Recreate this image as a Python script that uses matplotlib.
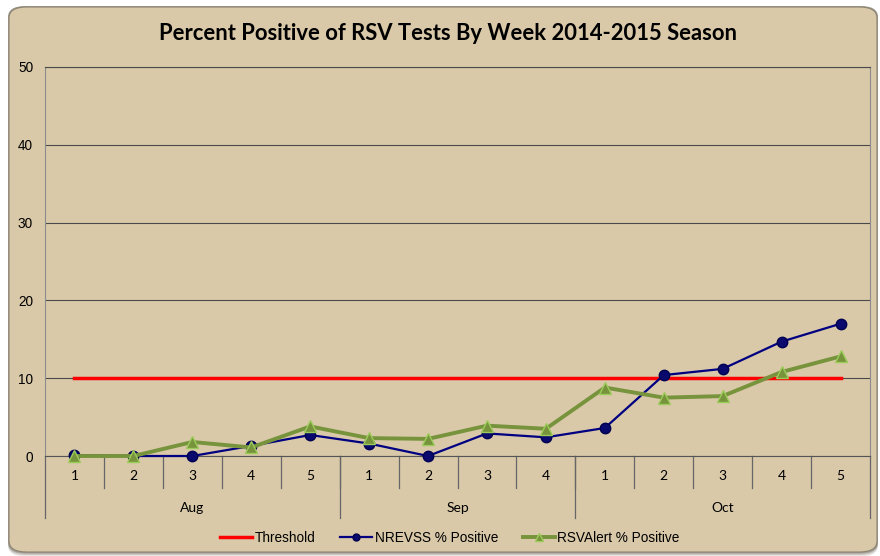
import numpy as np
import matplotlib.pyplot as plt
from matplotlib.patches import FancyBboxPatch
from matplotlib.lines import Line2D

weeks = ['1', '2', '3', '4', '5', '1', '2', '3', '4', '1', '2', '3', '4', '5']
months = ['Aug', 'Sep', 'Oct']
month_len = [5, 4, 5]
threshold = [10] * 14
nrevss = [0.1, 0.0, 0.0, 1.3, 2.7, 1.6, 0.0, 2.9, 2.4, 3.6, 10.4, 11.2, 14.7, 17.0]
rsvalert = [0.0, 0.0, 1.8, 1.1, 3.8, 2.3, 2.2, 3.9, 3.5, 8.8, 7.5, 7.7, 10.8, 12.8]

BG = '#D9C9A9'
W, H = 880, 556

fig = plt.figure(figsize=(8.8, 5.56), dpi=100, facecolor='white')

# rounded frame with a soft shadow
for i, a in enumerate([0.15, 0.25, 0.4]):
    off = (3 - i) * 1.5
    sh = FancyBboxPatch((8 / W, (4 - off) / H), 870 / W, (546 + off) / H,
                        boxstyle='round,pad=0,rounding_size=0.02',
                        transform=fig.transFigure, facecolor='#6b6355',
                        edgecolor='none', alpha=a, zorder=0)
    fig.patches.append(sh)
frame = FancyBboxPatch((9 / W, 4 / H), 868 / W, 545 / H,
                       boxstyle='round,pad=0,rounding_size=0.02',
                       transform=fig.transFigure, facecolor=BG,
                       edgecolor='#8a8270', linewidth=0.8, zorder=0)
fig.patches.append(frame)

ax = fig.add_axes([45 / W, (H - 456) / H, 825 / W, 389 / H])
ax.set_facecolor('none')
ax.set_zorder(2)

x = np.arange(len(weeks))
ax.plot(x, threshold, color='#FF0000', lw=2.5, zorder=3)
ax.plot(x, nrevss, color='#000080', lw=1.6, marker='o', ms=7.5,
        mfc='#0a0a6e', mec='#000050', zorder=4, clip_on=False)
ax.plot(x, rsvalert, color='#77933C', lw=2.8, marker='^', ms=9,
        mfc='#77933C', mec='#9BCB59', mew=1.0, zorder=5, clip_on=False)

ax.set_xlim(-0.5, len(weeks) - 0.5)
ax.set_ylim(0, 50)
ax.set_yticks([0, 10, 20, 30, 40, 50])
ax.yaxis.grid(True, color='#4a4a4a', lw=0.8)
ax.set_axisbelow(True)
ax.tick_params(axis='y', length=0, pad=8.6, labelsize=9.8, labelcolor='black')
for lab in ax.get_yticklabels():
    lab.set_family('Liberation Sans')
ax.set_xticks([])
for s in ['top', 'right', 'left']:
    ax.spines[s].set_color('#8c8c8c')
ax.spines['bottom'].set_color('#555555')
ax.spines['top'].set_color('#4a4a4a')

# two-level category axis
trans = ax.get_xaxis_transform()
wk_h = -32 / 389
mo_h = -62 / 389
for i, w in enumerate(weeks):
    ax.text(i, -20 / 389, w, transform=trans, ha='center', va='center',
            fontsize=10, family='Lato')
for b in range(1, len(weeks)):
    ax.plot([b - 0.5, b - 0.5], [0, wk_h], transform=trans, color='#666666',
            lw=0.9, clip_on=False)
start = 0
edges = [-0.5]
for m, n in zip(months, month_len):
    ax.text(start + (n - 1) / 2, -52 / 389, m, transform=trans, ha='center',
            va='center', fontsize=10, family='Lato')
    start += n
    edges.append(start - 0.5)
for e in edges:
    ax.plot([e, e], [0, mo_h], transform=trans, color='#666666', lw=0.9,
            clip_on=False)

fig.text(448 / W, 1 - 34 / H, 'Percent Positive of RSV Tests By Week 2014-2015 Season',
         ha='center', va='center', fontsize=15.8, fontweight='bold', family='Lato')

handles = [
    Line2D([], [], color='#FF0000', lw=2.5),
    Line2D([], [], color='#000080', lw=1.6, marker='o', ms=5,
           mfc='#0a0a6e', mec='#000050'),
    Line2D([], [], color='#77933C', lw=2.8, marker='^', ms=5.5,
           mfc='#77933C', mec='#9BCB59'),
]
leg = fig.legend(handles, ['Threshold', 'NREVSS % Positive', 'RSVAlert % Positive'],
                 loc='center', bbox_to_anchor=(450 / W, 1 - 538 / H), ncol=3,
                 frameon=False, prop={'family': 'Liberation Sans', 'size': 9.8},
                 handlelength=2.35, handletextpad=0.2, columnspacing=1.8)
leg.set_zorder(3)

fig.savefig('out.png', dpi=100, facecolor='white')
